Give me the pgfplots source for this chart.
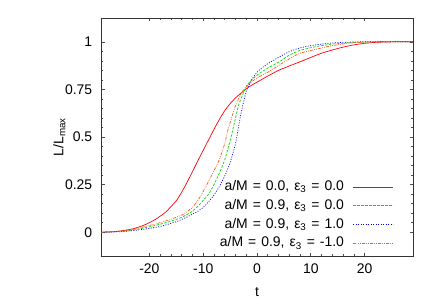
\documentclass[border=0pt]{standalone}
\usepackage{fontspec}
\setmainfont{Liberation Sans}
\usepackage{pgfplots}
\pgfplotsset{compat=1.18}
\definecolor{cRed}{rgb}{1,0,0}
\definecolor{cGreen}{rgb}{0,0.85,0}
\definecolor{cBlue}{rgb}{0,0,1}
\definecolor{cOrange}{rgb}{1,0.33,0.1}
\newcommand\legfont{\fontsize{14}{16}\selectfont\spaceskip=0.36em plus 0.1em\relax}
\begin{document}
\fontsize{14}{16}\selectfont
\begin{tikzpicture}
\path[use as bounding box] (-101bp,-49bp) rectangle (335bp,256bp);
\begin{axis}[
  scale only axis, width=312bp, height=238bp,
  xmin=-29, xmax=29, ymin=-0.125, ymax=1.125,
  xtick={-20,-10,0,10,20}, ytick={0,0.25,0.5,0.75,1},
  minor x tick num=4, minor y tick num=4,
  tick align=inside, major tick length=3.5bp, minor tick length=2bp,
  every tick/.style={black!70, line width=0.6pt},
  axis line style={black!80, line width=0.8pt},
  /pgf/number format/assume math mode=true,
  tick label style={font=\fontsize{14}{16}\selectfont},
  yticklabel style={/pgf/number format/fixed, xshift=-4bp},
  xticklabel style={yshift=-3bp},
  xlabel={t}, ylabel={L/L\textsubscript{max}},
  label style={font=\fontsize{14}{16}\selectfont},
  xlabel style={yshift=-4bp},
  ylabel style={yshift=-10bp},
  legend cell align=right, legend plot pos=right,
  legend style={draw=none, fill=none, inner sep=0pt, at={(axis description cs:0.939,0.025)}, anchor=south east,
    font=\legfont,
    nodes={inner sep=0pt, text height=10bp, text depth=3bp}, row sep=5.8bp},
  legend image code/.code={\path (0bp,0bp); \draw[#1, line width=0.85pt] (9bp,0bp) -- (49bp,0bp);},
  every axis plot/.append style={line width=0.7pt, smooth, tension=0.3},
]
\addplot[color=cRed, solid] coordinates {
(-29,0) (-27,0.002) (-25,0.008) (-23,0.018) (-21,0.037) (-19,0.065) (-17,0.105) (-15,0.165)
(-14,0.21) (-13,0.262) (-12,0.318) (-11,0.375) (-10,0.43) (-9,0.485) (-8,0.54) (-7,0.592)
(-6,0.638) (-5,0.675) (-4,0.705) (-3,0.73) (-2,0.753) (-1,0.772) (0,0.788) (2,0.82) (4,0.85)
(6,0.873) (8,0.895) (10,0.918) (12,0.94) (14,0.957) (16,0.972) (18,0.984) (20,0.992)
(22,0.997) (24,0.999) (26,1.0) (29,1.0)};
\addlegendentry{a/M = 0.0, ε\textsubscript{3} = 0.0}
\addplot[color=cGreen, dash pattern=on 2.5bp off 1.5bp] coordinates {
(-29,0) (-26,0.003) (-23,0.012) (-20,0.028) (-18,0.042) (-16,0.058) (-14,0.078) (-12,0.11)
(-10.7,0.145) (-9,0.2) (-8,0.25) (-7,0.31) (-6,0.38) (-5,0.48) (-4.5,0.538) (-4,0.6)
(-3.3,0.678) (-2,0.765) (-1,0.80) (0.5,0.835) (2,0.862) (4.2,0.896) (6,0.93) (8,0.955)
(11,0.975) (14,0.988) (17,0.995) (20,0.999) (23,1.0) (29,1.0)};
\addlegendentry{a/M = 0.9, ε\textsubscript{3} = 0.0}
\addplot[color=cBlue, dash pattern=on 1bp off 1.5bp] coordinates {
(-29,0) (-25,0.003) (-22,0.012) (-20,0.02) (-18,0.03) (-17,0.038) (-15,0.055) (-13,0.08)
(-11,0.11) (-10,0.13) (-9,0.16) (-8,0.195) (-7,0.24) (-6,0.295) (-5,0.365) (-4,0.465)
(-3,0.62) (-2,0.74) (-1,0.80) (0,0.84) (1,0.865) (2,0.885) (4,0.918) (6,0.948) (8,0.968)
(10,0.98) (12,0.988) (14,0.994) (16,0.997) (18,0.999) (20,1.0) (29,1.0)};
\addlegendentry{a/M = 0.9, ε\textsubscript{3} = 1.0}
\addplot[color=cOrange, dash pattern=on 3bp off 1.2bp on 0.8bp off 1.2bp on 0.8bp off 1.2bp] coordinates {
(-29,0) (-26,0.004) (-23,0.015) (-20,0.035) (-18,0.05) (-16,0.068) (-13.8,0.093) (-12,0.13)
(-10.7,0.18) (-9.5,0.24) (-8.2,0.311) (-7,0.381) (-6,0.465) (-5.4,0.538) (-4.5,0.62)
(-3.9,0.672) (-3,0.725) (-2.3,0.755) (-1,0.79) (0.5,0.818) (2,0.84) (4.2,0.879) (6,0.91)
(8,0.94) (11,0.961) (14,0.98) (17.2,0.993) (20,0.998) (23,1.0) (29,1.0)};
\addlegendentry{a/M = 0.9, ε\textsubscript{3} = -1.0}
\end{axis}
\end{tikzpicture}
\end{document}
